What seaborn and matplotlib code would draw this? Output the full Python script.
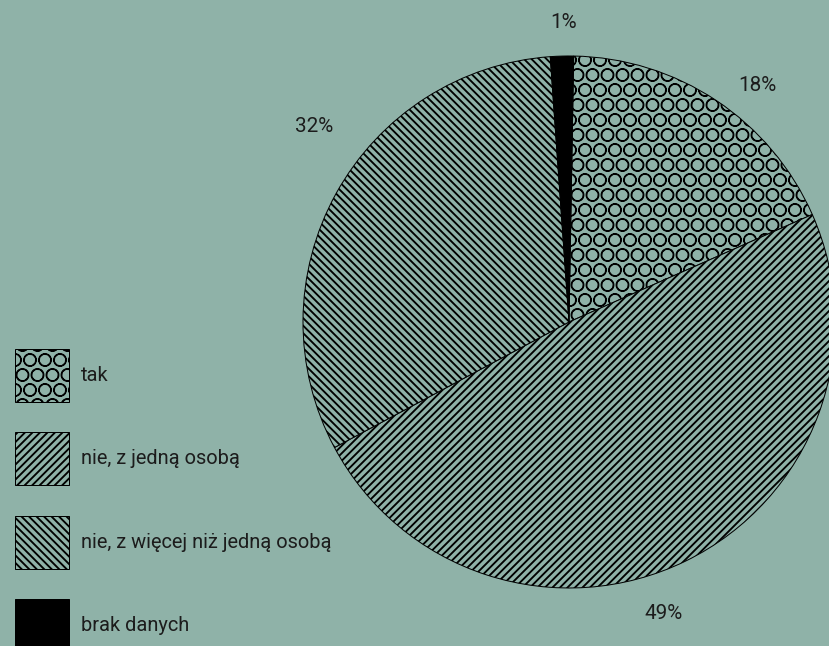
import matplotlib
matplotlib.use("Agg")
import matplotlib.pyplot as plt
import matplotlib.hatch as mhatch
import seaborn as sns
import numpy as np

#%% DANE

kategorie = ["tak", "nie, z jedną osobą", "nie, z więcej niż jedną osobą", "brak danych"]
udzialy = [18.1, 48.8, 31.7, 1.4]  # kąty wycinków
etykiety = ["18%", "49%", "32%", "1%"]

#%% WYGLĄD

TLO = "#8fb2a8"
TEKST = "#1c1c1c"
wzory = ["O", "////", "\\\\\\\\", None]
grubosc_wzoru = [1.0, 1.5, 1.5, 1.0]
wypelnienia = [TLO, TLO, TLO, "black"]
# położenie etykiet procentowych (kąt w stopniach, odległość w promieniach)
katy_etykiet = [51.5, -72.0, 142.6, 91.1]
odl_etykiet = [1.135, 1.154, 1.207, 1.128]

# większe kółka we wzorze 'O' (prawie stykające się, jak w oryginale)
mhatch.LargeCircles.size = 0.42

sns.set_theme(style="white", rc={"figure.facecolor": TLO, "axes.facecolor": TLO})
plt.rcParams["font.family"] = ["Roboto", "DejaVu Sans"]
plt.rcParams["hatch.linewidth"] = 1.5

DPI = 90
W, H = 830, 646
FS = 16
fig = plt.figure(figsize=(W / DPI, H / DPI), dpi=DPI, facecolor=TLO)
ax = fig.add_axes([303 / W, 1 - 588 / H, 532 / W, 532 / H])

wedges, _ = ax.pie(udzialy, startangle=89, counterclock=False, colors=wypelnienia,
                   wedgeprops=dict(edgecolor="black", linewidth=0.8))
for w, h, lw in zip(wedges, wzory, grubosc_wzoru):
    if h:
        w.set_hatch(h)
    if hasattr(w, "set_hatch_linewidth"):
        w.set_hatch_linewidth(lw)

ax.set_xlim(-1, 1)
ax.set_ylim(-1, 1)
ax.axis("off")

for t, a, d in zip(etykiety, katy_etykiet, odl_etykiet):
    r = np.deg2rad(a)
    ax.text(d * np.cos(r), d * np.sin(r), t, ha="center", va="center",
            fontsize=16.5, color=TEKST, clip_on=False)

px = FS * DPI / 72  # piksele na jednostkę fontu
leg = fig.legend(wedges, kategorie, loc="upper left", bbox_to_anchor=(15 / W, 1 - 349 / H),
                 frameon=False, fontsize=FS, handlelength=54 / px,
                 handleheight=(53 / px - 0.245) / 0.65,
                 labelspacing=30.3 / px, handletextpad=12 / px, borderpad=0,
                 borderaxespad=0, labelcolor=TEKST)
for p, lw in zip(leg.get_patches(), grubosc_wzoru):
    if hasattr(p, "set_hatch_linewidth"):
        p.set_hatch_linewidth(lw)

fig.savefig("out.png", dpi=DPI, facecolor=TLO)
